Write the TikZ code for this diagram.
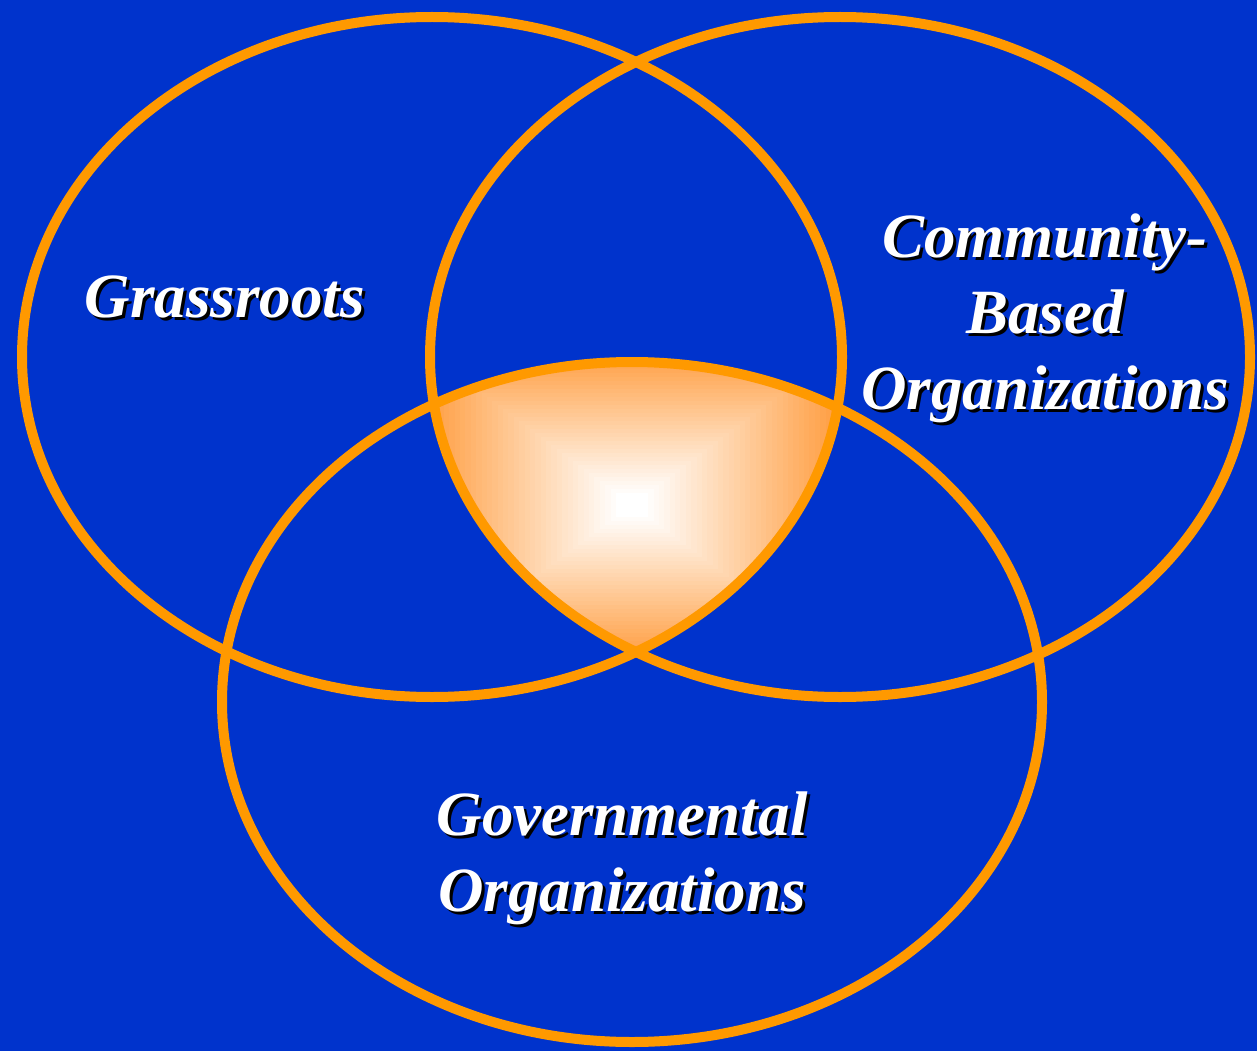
\documentclass[tikz,border=0pt]{standalone}
\usepackage{fontspec}
\setmainfont{Liberation Serif}
\usepackage{tikz}
\usetikzlibrary{positioning}

\definecolor{bgblue}{HTML}{0033CC}
\definecolor{ringorange}{HTML}{FF9900}
\definecolor{glow}{HTML}{FF9A3A}

\tikzset{
  ring/.style={draw=ringorange, line width=10pt},
  lbl/.style={font=\fontsize{63}{76}\selectfont\bfseries\itshape, align=center, inner sep=0pt},
  txt/.style={lbl, text=white},
  shd/.style={lbl, text=black}
}

% label with a dropped shadow
\newcommand{\shadowlabel}[3]{%
  \node[shd] (#1shd) at ([xshift=3pt,yshift=-3pt]#2) {#3};
  \node[txt] (#1) at (#2) {#3};
}

\begin{document}
\begin{tikzpicture}[x=1pt, y=-1pt]
\fill[bgblue] (0,0) rectangle (1257,1051);
\useasboundingbox (0,0) rectangle (1257,1051);

\coordinate (cgrass) at (432,357);
\coordinate (ccomm) at (840,357);
\coordinate (cgov) at (632,702);

% glowing centre where all three meet
\begin{scope}
  \clip (cgrass) ellipse [x radius=410pt, y radius=340pt];
  \clip (ccomm) ellipse [x radius=410pt, y radius=340pt];
  \clip (cgov) ellipse [x radius=410pt, y radius=340pt];
  \foreach \i in {0,...,40} {
    \pgfmathsetmacro{\w}{215*(1-\i/40)}
    \pgfmathsetmacro{\h}{160*(1-\i/40)}
    \pgfmathsetmacro{\m}{min(100,2.7*\i)}
    \fill[white!\m!glow] (632-\w,505-\h) rectangle (632+\w,505+\h);
  }
\end{scope}

\draw[ring] (cgrass) ellipse [x radius=410pt, y radius=340pt];
\draw[ring] (ccomm) ellipse [x radius=410pt, y radius=340pt];
\draw[ring] (cgov) ellipse [x radius=410pt, y radius=340pt];

\shadowlabel{grass}{225,297}{Grassroots}
\shadowlabel{comm}{1045,318}{Community-\\Based\\Organizations}
\shadowlabel{gov}{622,858}{Governmental\\Organizations}
\end{tikzpicture}
\end{document}
